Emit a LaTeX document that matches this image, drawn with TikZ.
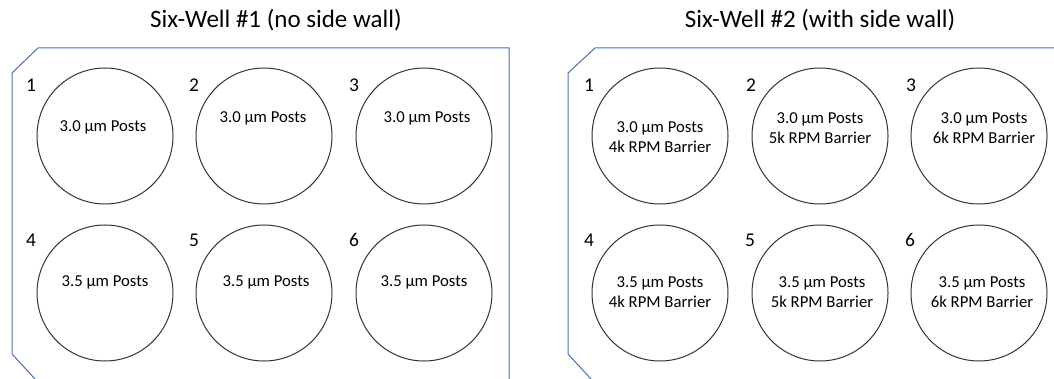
\documentclass[tikz,border=0pt]{standalone}
\usepackage{fontspec}
\setmainfont{Carlito}
\begin{document}
\begin{tikzpicture}[x=1pt,y=-1pt,
  plate/.style={draw=plateblue,line width=1pt},
  well/.style={circle,draw=black!80,line width=1pt,minimum size=136pt,inner sep=0pt},
  wtext/.style={font=\fontsize{16.7}{19.5}\selectfont,align=center,inner sep=0pt},
  wnum/.style={font=\fontsize{19.5}{22}\selectfont,inner sep=0pt},
  ttl/.style={font=\fontsize{25}{30}\selectfont,inner sep=0pt}]
\definecolor{plateblue}{RGB}{72,110,182}
\useasboundingbox (0,0) rectangle (1054,379);

% titles
\node[ttl] (t1) at (276,20) {Six-Well \#1 (no side wall)};
\node[ttl] (t2) at (820,20) {Six-Well \#2 (with side wall)};

% plate outlines
\draw[plate] (35,379) -- (12,354) -- (12,73) -- (38,48) -- (509,48) -- (509,379);
\draw[plate] (591,379) -- (568,354) -- (568,73) -- (595,48) -- (1054,48);

% plate 1 wells
\node[well] (a1) at (105,136) {};
\node[well] (a2) at (264,136) {};
\node[well] (a3) at (424,136) {};
\node[well] (a4) at (105,293) {};
\node[well] (a5) at (264,293) {};
\node[well] (a6) at (424,293) {};

\node[wnum] (na1) at (31,85) {1};
\node[wnum] (na2) at (194,85) {2};
\node[wnum] (na3) at (354,85) {3};
\node[wnum] (na4) at (31,240) {4};
\node[wnum] (na5) at (194,240) {5};
\node[wnum] (na6) at (354,240) {6};

\node[wtext] (la1) at (103,127) {3.0 µm Posts};
\node[wtext] (la2) at (263,118) {3.0 µm Posts};
\node[wtext] (la3) at (427,118) {3.0 µm Posts};
\node[wtext] (la4) at (105,282) {3.5 µm Posts};
\node[wtext] (la5) at (266,282) {3.5 µm Posts};
\node[wtext] (la6) at (424,282) {3.5 µm Posts};

% plate 2 wells
\node[well] (b1) at (660,136) {};
\node[well] (b2) at (820,136) {};
\node[well] (b3) at (979,136) {};
\node[well] (b4) at (660,293) {};
\node[well] (b5) at (820,293) {};
\node[well] (b6) at (979,293) {};

\node[wnum] (nb1) at (589,85) {1};
\node[wnum] (nb2) at (751,85) {2};
\node[wnum] (nb3) at (911,85) {3};
\node[wnum] (nb4) at (589,240) {4};
\node[wnum] (nb5) at (750,240) {5};
\node[wnum] (nb6) at (910,240) {6};

\node[wtext] (lb1) at (660,137) {3.0 µm Posts\\4k RPM Barrier};
\node[wtext] (lb2) at (820,128) {3.0 µm Posts\\5k RPM Barrier};
\node[wtext] (lb3) at (984,128) {3.0 µm Posts\\6k RPM Barrier};
\node[wtext] (lb4) at (660,292) {3.5 µm Posts\\4k RPM Barrier};
\node[wtext] (lb5) at (822,292) {3.5 µm Posts\\5k RPM Barrier};
\node[wtext] (lb6) at (982,292) {3.5 µm Posts\\6k RPM Barrier};
\end{tikzpicture}
\end{document}
